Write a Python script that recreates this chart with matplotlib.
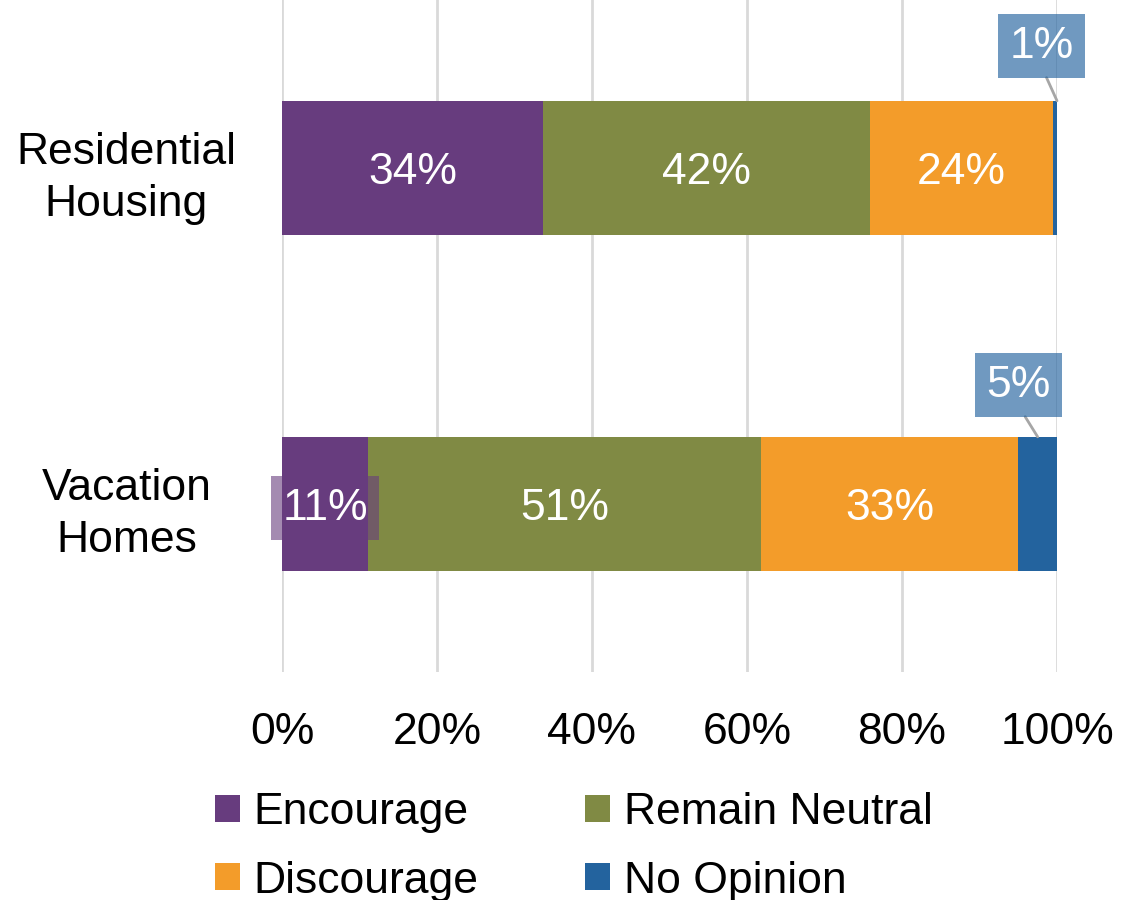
import numpy as np
import matplotlib.pyplot as plt

plt.rcParams['font.family'] = ['Liberation Sans', 'DejaVu Sans']

categories = ['Vacation\nHomes', 'Residential\nHousing']
series = ['Encourage', 'Remain Neutral', 'Discourage', 'No Opinion']
values = {
    'Encourage':      [11.1, 33.7],
    'Remain Neutral': [50.7, 42.2],
    'Discourage':     [33.2, 23.6],
    'No Opinion':     [5.0, 0.5],
}
labels = {
    'Encourage':      ['11%', '34%'],
    'Remain Neutral': ['51%', '42%'],
    'Discourage':     ['33%', '24%'],
    'No Opinion':     ['5%', '1%'],
}
colors = {
    'Encourage': '#673c7e',
    'Remain Neutral': '#808a44',
    'Discourage': '#f39c2a',
    'No Opinion': '#23639e',
}
xticks = [0, 20, 40, 60, 80, 100]

fs = 32
fig = plt.figure(figsize=(11.22, 9), dpi=100)
ax = fig.add_axes([282 / 1122, 1 - 672 / 900, 775 / 1122, 672 / 900])

y = np.arange(len(categories))
left = np.zeros(len(categories))
bars = {}
for s in series:
    bars[s] = ax.barh(y, values[s], left=left, height=0.4, color=colors[s],
                      label=s, zorder=3)
    left = left + np.array(values[s])

# labels inside the bars
for s in ['Encourage', 'Remain Neutral', 'Discourage']:
    for i, rect in enumerate(bars[s]):
        cx = rect.get_x() + rect.get_width() / 2
        cy = rect.get_y() + rect.get_height() / 2
        kw = {}
        if rect.get_width() < 15:
            kw['bbox'] = dict(boxstyle='square,pad=0.25', fc=colors[s],
                              ec='none', alpha=0.6)
        ax.text(cx, cy - 0.012, labels[s][i], ha='center', va='center',
                color='white', fontsize=fs, zorder=5, **kw)

# callout labels for the small No Opinion segments
offsets = [(95.0, 0.354), (98.0, 1.363)]
for i, rect in enumerate(bars['No Opinion']):
    px = rect.get_x() + rect.get_width() / 2
    if i == 1:
        px = rect.get_x() + rect.get_width()
    py = rect.get_y() + rect.get_height()
    ax.annotate(labels['No Opinion'][i], xy=(px, py), xytext=offsets[i],
                ha='center', va='center', color='white', fontsize=fs,
                bbox=dict(boxstyle='square,pad=0.25', fc=colors['No Opinion'],
                          ec='none', alpha=0.65),
                arrowprops=dict(arrowstyle='-', color='#a6a6a6', lw=2,
                                shrinkA=0, shrinkB=0, relpos=(0.5, 0)),
                zorder=6, annotation_clip=False)

ax.set_xlim(0, 100)
ax.set_ylim(-0.5, 1.5)
ax.set_xticks(xticks)
ax.set_xticklabels([f'{t}%' for t in xticks])
ax.set_yticks(y)
ax.set_yticklabels(categories, ha='center', multialignment='center',
                   linespacing=1.35)
ax.tick_params(axis='both', length=0, labelsize=fs)
ax.tick_params(axis='x', pad=29)
ax.tick_params(axis='y', pad=112)
for sp in ax.spines.values():
    sp.set_visible(False)
ax.xaxis.grid(True, color='#d9d9d9', lw=2, zorder=0)
ax.set_axisbelow(True)

# legend filled row by row: Encourage, Remain Neutral / Discourage, No Opinion
order = ['Encourage', 'Discourage', 'Remain Neutral', 'No Opinion']
fig.legend(handles=[bars[s] for s in order], labels=order, ncol=2,
           loc='upper left', bbox_to_anchor=(0.192, 0.12), frameon=False,
           fontsize=fs, handlelength=0.56, handleheight=0.56,
           handletextpad=0.3, columnspacing=2.4, labelspacing=0.62,
           borderpad=0, borderaxespad=0)

fig.savefig('out.png', dpi=100)
